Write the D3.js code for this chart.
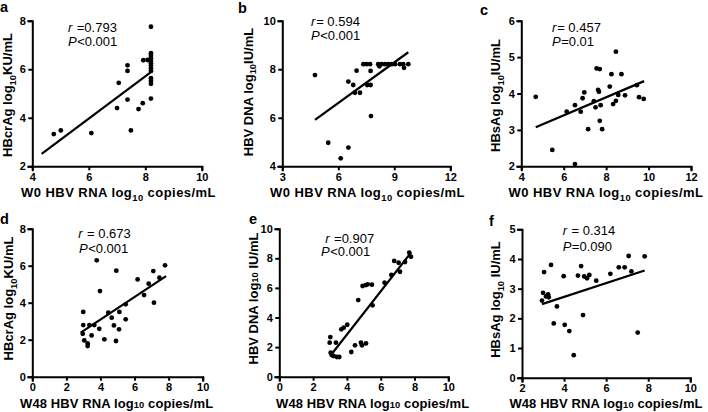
<!DOCTYPE html>
<html><head><meta charset="utf-8">
<script src="https://cdn.jsdelivr.net/npm/d3@7"></script>
<style>
html,body{margin:0;padding:0;background:#fff;}
svg{display:block;font-family:"Liberation Sans",Arial,Helvetica,sans-serif;}
</style></head><body>
<svg id="chart" width="708" height="412"></svg>
<script>
// ---------- data ----------
const pointsA = [[4.76,3.33],[5.01,3.48],[6.09,3.37],[7.00,4.40],[7.06,5.44],[7.37,6.16],[7.37,5.93],[7.37,4.75],[7.49,3.48],[7.76,4.36],[7.91,4.60],[7.93,6.37],[8.08,6.38],[8.2,7.75],[8.2,6.66],[8.2,6.56],[8.2,6.45],[8.2,6.34],[8.2,6.25],[8.2,6.15],[8.2,6.04],[8.2,5.93],[8.2,5.63],[8.2,5.52],[8.2,5.40],[8.2,4.79]];
const fitA = [[4.33,2.51],[8.27,5.94]];
const pointsB = [[4.75,7.76],[5.46,4.97],[6.13,4.33],[6.54,4.77],[6.54,7.49],[6.80,7.35],[6.89,7.03],[7.16,7.03],[6.98,7.94],[7.55,7.35],[7.73,7.35],[7.73,7.93],[7.75,6.07],[7.34,8.21],[7.52,8.21],[7.70,8.21],[8.14,8.21],[8.32,8.21],[8.50,8.21],[8.68,8.21],[8.86,8.21],[9.04,8.21],[9.30,8.21],[9.48,8.21],[9.75,8.21],[9.52,8.06],[8.2,8.12]];
const fitB = [[4.75,5.91],[9.75,8.70]];
const pointsC = [[4.68,3.91],[5.46,2.45],[6.53,2.06],[6.14,3.50],[6.53,3.68],[6.80,3.50],[6.89,3.87],[6.97,4.03],[7.15,3.02],[7.42,3.79],[7.50,3.62],[7.55,4.69],[7.70,4.67],[7.62,4.10],[7.66,4.05],[7.74,3.68],[7.70,3.25],[7.81,3.02],[8.17,4.19],[8.25,4.53],[8.33,3.71],[8.46,5.15],[8.46,3.80],[8.57,3.96],[8.72,4.53],[8.89,3.95],[9.45,4.23],[9.55,3.90],[9.77,3.85]];
const fitC = [[4.68,3.07],[9.79,4.34]];
const pointsD = [[2.99,3.50],[2.99,2.79],[2.96,2.32],[3.05,1.96],[3.25,1.80],[3.25,1.66],[3.35,2.79],[3.48,2.23],[3.64,2.79],[3.78,6.29],[3.93,2.59],[3.97,4.63],[4.23,2.02],[4.46,3.46],[4.66,3.19],[4.79,2.77],[4.91,1.93],[4.93,5.73],[5.09,2.56],[5.11,3.50],[5.48,3.10],[5.48,3.91],[6.18,5.26],[6.56,4.41],[6.83,5.03],[7.10,5.71],[7.14,4.00],[7.46,5.35],[7.79,6.02]];
const fitD = [[2.84,2.38],[7.85,5.44]];
const pointsE = [[3.02,2.68],[2.98,2.30],[3.04,1.62],[3.10,1.46],[3.21,1.40],[3.35,2.30],[3.41,1.33],[3.55,1.33],[3.67,3.20],[3.81,3.31],[4.02,3.51],[4.26,1.67],[4.48,2.12],[4.67,5.18],[4.83,2.30],[4.89,2.12],[4.93,6.13],[5.13,6.19],[5.13,2.25],[5.23,6.24],[5.48,6.22],[5.52,4.82],[6.23,6.35],[6.63,6.87],[6.80,7.82],[7.06,7.70],[7.14,7.09],[7.44,7.75],[7.69,8.38],[7.79,8.11]];
const fitE = [[3.16,1.62],[7.79,8.38]];
const pointsF = [[2.95,2.60],[3.00,2.86],[3.05,3.56],[3.14,2.74],[3.24,2.81],[3.27,2.71],[3.38,3.80],[3.51,1.83],[3.66,2.40],[3.98,3.42],[4.03,1.78],[4.25,1.57],[4.46,0.76],[4.66,3.44],[4.81,3.76],[4.90,2.11],[4.96,3.41],[5.09,3.35],[5.20,3.46],[5.53,3.27],[6.20,3.50],[6.60,3.72],[6.88,3.72],[7.07,4.10],[7.20,3.58],[7.50,1.52],[7.83,4.09]];
const fitF = [[2.95,2.48],[7.83,3.61]];

const xTicksA = [4,6,8,10], yTicksA = [2,4,6,8];
const xTicksB = [3,6,9,12], yTicksB = [4,6,8,10];
const xTicksC = [4,6,8,10,12], yTicksC = [2,3,4,5,6];
const xTicksD = [0,2,4,6,8,10], yTicksD = [0,2,4,6,8];
const xTicksE = [0,2,4,6,8,10], yTicksE = [0,2,4,6,8,10];
const xTicksF = [2,4,6,8,10], yTicksF = [0,1,2,3,4,5];

// text segments: [text, kind]  kind: "" normal, "sub" subscript, "small" small inline
const xTitleTop = [["W0 HBV RNA log",""],["10","sub"],[" copies/mL",""]];
const xTitleBottom = [["W48 HBV RNA log",""],["10","small"],[" copies/mL",""]];
const yTitleA = [["HBcrAg log",""],["10","sub"],["KU/mL",""]];
const yTitleB = [["HBV DNA log",""],["10","sub"],["IU/mL",""]];
const yTitleC = [["HBsAg log",""],["10","sub"],["IU/mL",""]];
const yTitleD = [["HBcrAg log",""],["10","sub"],["KU/mL",""]];
const yTitleE = [["HBV DNA log",""],["10","small"],[" IU/mL",""]];
const yTitleF = [["HBsAg log",""],["10","sub"],[" IU/mL",""]];
const statR = [" =0.793","= 0.594","= 0.457"," = 0.673"," =0.907"," = 0.314"];
const statP = ["<0.001","<0.001","=0.01","<0.001","<0.001","=0.090"];
const panelLetters = ["a","b","c","d","e","f"];

// ---------- layout ----------
const panels = [
 {pts:pointsA, fit:fitA, xd:[4,10], yd:[2,8], xt:xTicksA, yt:yTicksA, xTitle:xTitleTop, yTitle:yTitleA,
  L:32.3, T:20.7, W:169.5, H:145.6, letter:[0,12], xT:[118.5,197.3], yT:[12.3,95], st:[68,31.5,68,45.5]},
 {pts:pointsB, fit:fitB, xd:[3,12], yd:[4,10], xt:xTicksB, yt:yTicksB, xTitle:xTitleTop, yTitle:yTitleB,
  L:282.3, T:20.7, W:168, H:145.6, letter:[238,12.5], xT:[367.5,197.3], yT:[252.5,92], st:[311,25.5,311,39.8]},
 {pts:pointsC, fit:fitC, xd:[4,12], yd:[2,6], xt:xTicksC, yt:yTicksC, xTitle:xTitleTop, yTitle:yTitleC,
  L:521.3, T:20.7, W:169.7, H:145.6, letter:[480,15], xT:[606,197.3], yT:[500,95.5], st:[552,31.5,552,46]},
 {pts:pointsD, fit:fitD, xd:[0,10], yd:[0,8], xt:xTicksD, yt:yTicksD, xTitle:xTitleBottom, yTitle:yTitleD,
  L:32.3, T:228.7, W:170.4, H:148, letter:[0,224], xT:[116.7,407.5], yT:[13,298.5], st:[78.3,238,79,252.5]},
 {pts:pointsE, fit:fitE, xd:[0,10], yd:[0,10], xt:xTicksE, yt:yTicksE, xTitle:xTitleBottom, yTitle:yTitleE,
  L:279.3, T:228.7, W:169, H:148, letter:[249,224], xT:[372.7,407.5], yT:[258,298.5], st:[325.3,242.5,321,256]},
 {pts:pointsF, fit:fitF, xd:[2,10], yd:[0,5], xt:xTicksF, yt:yTicksF, xTitle:xTitleBottom, yTitle:yTitleF,
  L:522, T:229.3, W:168.3, H:148.4, letter:[489,226], xT:[606,407.5], yT:[500,299.5], st:[562.7,235,562.7,251]}
];

const svg = d3.select("#chart");

function addSegments(textSel, segs, baseSize){
  let shift = 0;
  segs.forEach(([t,kind])=>{
    const ts = textSel.append("tspan").text(t);
    if(kind==="sub"){ ts.attr("font-size", baseSize*0.72).attr("dy", baseSize*0.3); shift = baseSize*0.3; }
    else {
      if(kind==="small") ts.attr("font-size", baseSize*0.72);
      if(shift){ ts.attr("dy", -shift); shift = 0; }
    }
  });
}

panels.forEach((p,i)=>{
  const x = d3.scaleLinear().domain(p.xd).range([0,p.W]);
  const y = d3.scaleLinear().domain(p.yd).range([p.H,0]);
  const g = svg.append("g").attr("transform",`translate(${p.L},${p.T})`);

  const xa = g.append("g").attr("transform",`translate(0,${p.H})`)
    .call(d3.axisBottom(x).tickValues(p.xt).tickSizeOuter(0).tickSize(4).tickPadding(2.5).tickFormat(d3.format("d")));
  const ya = g.append("g")
    .call(d3.axisLeft(y).tickValues(p.yt).tickSizeOuter(0).tickSize(4).tickPadding(2.5).tickFormat(d3.format("d")));
  [xa,ya].forEach(a=>{
    a.select(".domain").attr("stroke","#000").attr("stroke-width",2).attr("stroke-linecap","square");
    a.selectAll(".tick line").attr("stroke","#000").attr("stroke-width",2);
    a.selectAll(".tick text").attr("fill","#000").attr("font-weight","bold").attr("font-size","11px")
      .attr("font-family",'"Liberation Sans",Arial,sans-serif');
  });

  g.append("path").datum(p.fit)
    .attr("d", d3.line().x(d=>x(d[0])).y(d=>y(d[1])))
    .attr("stroke","#000").attr("stroke-width",2.2).attr("fill","none");

  g.selectAll("circle.pt").data(p.pts).join("circle").attr("class","pt")
    .attr("cx",d=>x(d[0])).attr("cy",d=>y(d[1])).attr("r",2.4).attr("fill","#000");

  // axis titles
  const xt = svg.append("text").attr("x",p.xT[0]).attr("y",p.xT[1]).attr("text-anchor","middle")
    .attr("font-weight","bold").attr("font-size",13).attr("letter-spacing", i<3?0.45:0.1);
  addSegments(xt, p.xTitle, 13);
  const yt = svg.append("text").attr("transform",`translate(${p.yT[0]},${p.yT[1]}) rotate(-90)`)
    .attr("text-anchor","middle").attr("font-weight","bold").attr("font-size",13);
  addSegments(yt, p.yTitle, 13);

  // stats
  const r = svg.append("text").attr("x",p.st[0]).attr("y",p.st[1]).attr("font-size",13);
  r.append("tspan").attr("font-style","italic").text("r");
  r.append("tspan").attr("dx",0.8).text(statR[i]);
  const pp = svg.append("text").attr("x",p.st[2]).attr("y",p.st[3]).attr("font-size",13);
  pp.append("tspan").attr("font-style","italic").text("P");
  pp.append("tspan").attr("dx",0.5).text(statP[i]);

  svg.append("text").attr("x",p.letter[0]).attr("y",p.letter[1]).attr("font-weight","bold")
    .attr("font-size",14.5).text(panelLetters[i]);
});
</script>
</body></html>
